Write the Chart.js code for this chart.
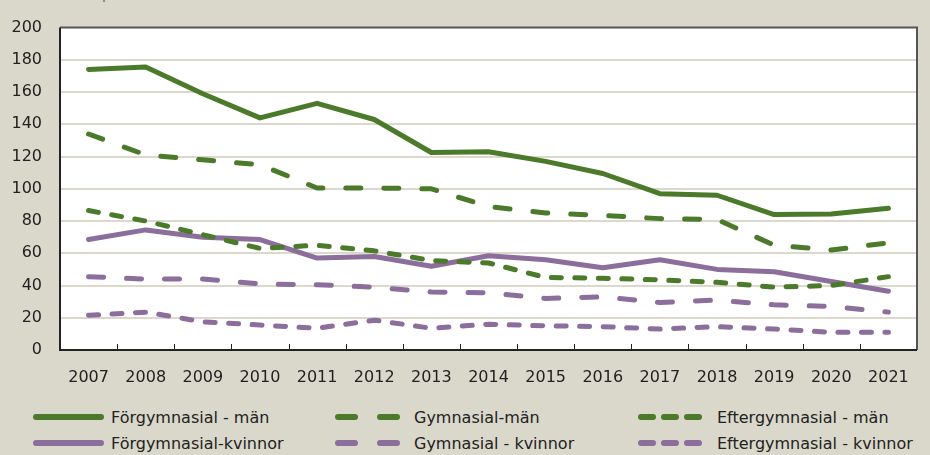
<!DOCTYPE html>
<html>
<head>
<meta charset="utf-8">
<script src="https://cdn.jsdelivr.net/npm/chart.js@4.4.1/dist/chart.umd.min.js"></script>
<style>
  html, body { margin: 0; padding: 0; background: #dad8cb; }
  #wrap { position: relative; width: 930px; height: 455px; overflow: hidden; font-family: "DejaVu Sans", sans-serif; }
  #chartBox { position: absolute; left: 0; top: 0; width: 930px; height: 395px; }
  #title { position: absolute; left: 55px; top: -16px; font-size: 16px; line-height: 19px; color: #777; }
  .leg { position: absolute; display: flex; align-items: center; font-size: 16px; color: #222; white-space: nowrap; }
  .leg svg { display: block; margin-right: 7px; }
</style>
</head>
<body>
<div id="wrap">
  <div id="title">Antal per 1 000 invånare</div>
  <div id="chartBox"><canvas id="lineChart"></canvas></div>
  <div id="legend"></div>
</div>
<script>
document.addEventListener("DOMContentLoaded", function() {

    const years = ['2007', '2008', '2009', '2010', '2011', '2012', '2013', '2014', '2015', '2016', '2017', '2018', '2019', '2020', '2021'];
    const yTicks = [0, 20, 40, 60, 80, 100, 120, 140, 160, 180, 200];

    const forgymnMan = [174, 175.5, 159, 144, 153, 143, 122.5, 123, 117, 109.5, 97, 96, 84, 84.3, 88];
    const gymnMan = [134, 121, 118, 115, 100.5, 100.5, 100, 89, 85, 83.5, 81.5, 81, 65, 62, 66.5];
    const eftergymnMan = [86.5, 80, 71.5, 63, 65, 61.5, 55.5, 54, 45, 44.5, 43.5, 42, 39, 40, 45.5];
    const forgymnKvinnor = [68.5, 74.5, 70, 68.5, 57, 58, 52, 58.5, 56, 51, 56, 50, 48.5, 42.5, 36.5];
    const gymnKvinnor = [45.5, 44, 44, 41, 40.5, 39, 36, 35.5, 32, 33, 29.5, 31, 28, 27, 23.5];
    const eftergymnKvinnor = [21.5, 23.5, 17.5, 15.5, 13.5, 18.5, 13.5, 16, 15, 14.5, 13, 14.5, 13, 11, 11];

    const green = '#4a7a2a';
    const purple = '#8b6e9b';
    const longDash = [15, 23];
    const shortDash = [10, 13.5];

    const datasets = [
        { label: 'Förgymnasial - män', data: forgymnMan, borderColor: green, borderDash: [], legendDash: '' },
        { label: 'Gymnasial-män', data: gymnMan, borderColor: green, borderDash: longDash, legendDash: '17 25' },
        { label: 'Eftergymnasial - män', data: eftergymnMan, borderColor: green, borderDash: shortDash, legendDash: '12 11' },
        { label: 'Förgymnasial-kvinnor', data: forgymnKvinnor, borderColor: purple, borderDash: [], legendDash: '' },
        { label: 'Gymnasial - kvinnor', data: gymnKvinnor, borderColor: purple, borderDash: longDash, legendDash: '17 25' },
        { label: 'Eftergymnasial - kvinnor', data: eftergymnKvinnor, borderColor: purple, borderDash: shortDash, legendDash: '12 11' }
    ];

    // Frame and inward tick marks
    const framePlugin = {
        id: 'frame',
        afterDatasetsDraw(chart) {
            const { ctx, chartArea: a, scales } = chart;
            ctx.save();
            ctx.strokeStyle = '#222';
            ctx.lineWidth = 1;
            const xs = scales.x;
            for (let i = 1; i < years.length; i++) {
                const bx = Math.round((xs.getPixelForTick(i - 1) + xs.getPixelForTick(i)) / 2) + 0.5;
                ctx.beginPath();
                ctx.moveTo(bx, a.bottom);
                ctx.lineTo(bx, a.bottom - 6);
                ctx.stroke();
            }
            ctx.strokeStyle = '#555';
            ctx.lineWidth = 2;
            ctx.beginPath();
            ctx.moveTo(a.left, a.top);
            ctx.lineTo(a.right, a.top);
            ctx.lineTo(a.right, a.bottom);
            ctx.stroke();
            ctx.strokeStyle = '#222';
            ctx.beginPath();
            ctx.moveTo(a.left, a.top);
            ctx.lineTo(a.left, a.bottom);
            ctx.lineTo(a.right, a.bottom);
            ctx.stroke();
            ctx.restore();
        }
    };

    const areaBg = {
        id: 'areaBg',
        beforeDraw(chart) {
            const { ctx, chartArea: a } = chart;
            ctx.save();
            ctx.fillStyle = '#ffffff';
            ctx.fillRect(a.left, a.top, a.right - a.left, a.bottom - a.top);
            ctx.restore();
        }
    };

    new Chart(document.getElementById('lineChart').getContext('2d'), {
        type: 'line',
        data: {
            labels: years,
            datasets: datasets.map(d => ({
                label: d.label,
                data: d.data,
                borderColor: d.borderColor,
                borderDash: d.borderDash,
                borderWidth: 5,
                borderCapStyle: 'round',
                borderJoinStyle: 'round',
                pointRadius: 0,
                tension: 0,
                fill: false
            }))
        },
        options: {
            responsive: true,
            maintainAspectRatio: false,
            animation: false,
            layout: { padding: { top: 24, right: 13, left: 0, bottom: 0 } },
            plugins: { legend: { display: false }, tooltip: { enabled: false } },
            scales: {
                x: {
                    offset: true,
                    grid: { display: false, drawTicks: false },
                    border: { display: false },
                    ticks: { color: '#222', font: { family: 'DejaVu Sans', size: 16 }, padding: 18, maxRotation: 0 },
                    afterFit: s => { s.height = 45; }
                },
                y: {
                    min: 0,
                    max: 200,
                    afterBuildTicks: s => { s.ticks = yTicks.map(v => ({ value: v })); },
                    grid: { color: ctx => (ctx.tick.value === 0 || ctx.tick.value === 200) ? 'rgba(0,0,0,0)' : '#dcd9cc', lineWidth: 2, drawTicks: false },
                    border: { display: false },
                    ticks: { color: '#222', font: { family: 'DejaVu Sans', size: 16 }, padding: 18 },
                    afterFit: s => { s.width = 60; }
                }
            }
        },
        plugins: [areaBg, framePlugin]
    });

    // HTML legend built from the datasets
    const legendPos = [
        { x: 33, y: 417 }, { x: 335, y: 417 }, { x: 638, y: 417 },
        { x: 33, y: 443 }, { x: 335, y: 443 }, { x: 638, y: 443 }
    ];
    const legend = document.getElementById('legend');
    datasets.forEach((d, i) => {
        const p = legendPos[i];
        const w = d.legendDash ? 66 : 71;
        const item = document.createElement('div');
        item.className = 'leg';
        item.style.left = p.x + 'px';
        item.style.top = (p.y - 11) + 'px';
        item.style.height = '22px';
        item.innerHTML =
            `<svg width="${w + (d.legendDash ? 6 : 0)}" height="10">` +
            `<line x1="3" y1="5" x2="${w - 3}" y2="5" stroke="${d.borderColor}" stroke-width="6" stroke-linecap="round"` +
            (d.legendDash ? ` stroke-dasharray="${d.legendDash}"` : '') + `/></svg>` +
            `<span>${d.label}</span>`;
        legend.appendChild(item);
    });
});
</script>
</body>
</html>
